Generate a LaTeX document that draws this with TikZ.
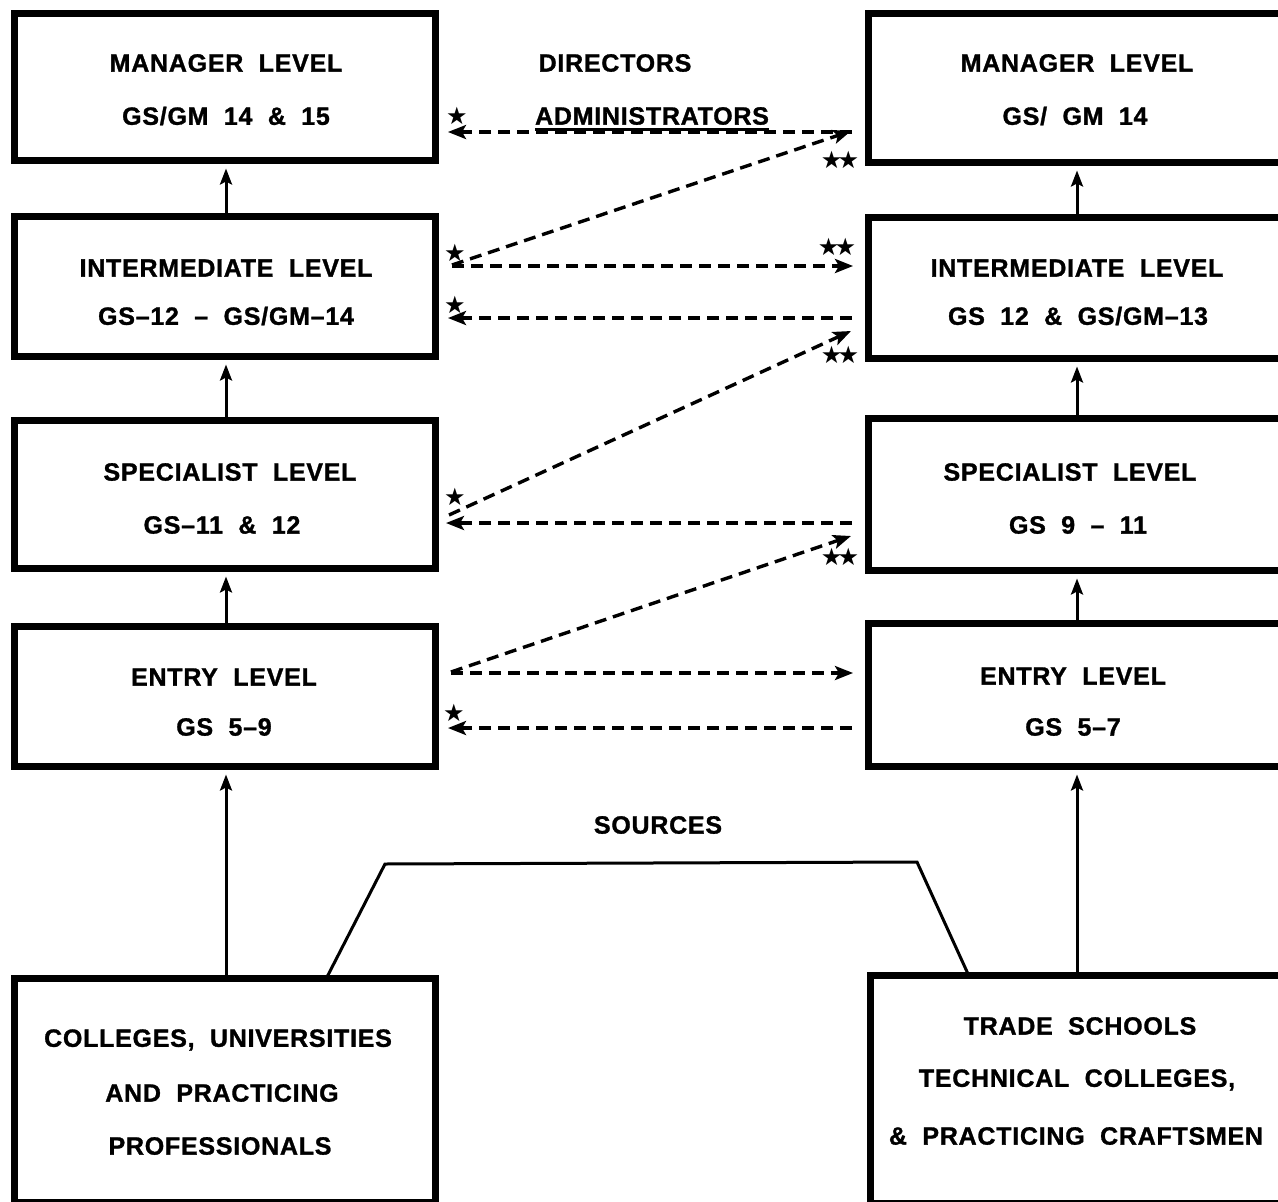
\documentclass[tikz,border=0pt]{standalone}
\usepackage{fontspec}
\setmainfont{Liberation Sans}
\newfontfamily\lblfont{Liberation Sans}[LetterSpace=3,WordSpace=2.0,BoldFeatures={FakeBold=1.2}]
\newfontfamily\starfont{DejaVu Sans}
\usetikzlibrary{arrows.meta,calc}
\begin{document}
\begin{tikzpicture}[x=1pt,y=-1pt,
  box/.style={draw,line width=7pt,inner sep=0pt,minimum width=421pt},
  rbox/.style={draw,line width=7pt,inner sep=0pt,minimum width=422pt},
  lbl/.style={inner sep=0pt,anchor=center,font=\lblfont\bfseries\fontsize{25}{25}\selectfont},
  uparrow/.style={line width=3pt,-{Stealth[length=16pt,width=12pt,inset=3pt]}},
  dasharrow/.style={line width=3.4pt,dash pattern=on 12pt off 7pt,-{Stealth[length=18pt,width=14pt,inset=4pt]}},
  star/.style={inner sep=0pt,font=\starfont\fontsize{24}{24}\selectfont},
  link/.style={line width=3pt,line join=miter}]
\useasboundingbox (0,0) rectangle (1278,1202);
\begin{scope}
\clip (0,0) rectangle (1278,1202);
% left column
\node[box,minimum height=147pt] (LM) at (224.5,86.5) {};
\node[box,minimum height=140pt] (LI) at (224.5,286) {};
\node[box,minimum height=148pt] (LS) at (224.5,494) {};
\node[box,minimum height=140pt] (LE) at (224.5,696) {};
\node[box,minimum height=224pt] (LB) at (224.5,1090) {};
% right column
\node[rbox,minimum height=149pt] (RM) at (1079,87.5) {};
\node[rbox,minimum height=141pt] (RI) at (1079,287.5) {};
\node[rbox,minimum height=152pt] (RS) at (1079,494) {};
\node[rbox,minimum height=143pt] (RE) at (1079,694.5) {};
\node[rbox,minimum height=228pt,minimum width=420pt] (RB) at (1080,1089) {};
\end{scope}
% texts left
\node[lbl] (lm1) at (226,63) {MANAGER LEVEL};
\node[lbl] (lm2) at (226,116) {GS/GM 14 \& 15};
\node[lbl] (li1) at (226,268) {INTERMEDIATE LEVEL};
\node[lbl] (li2) at (226,316) {GS–12 – GS/GM–14};
\node[lbl] (ls1) at (230,472) {SPECIALIST LEVEL};
\node[lbl] (ls2) at (222,525) {GS–11 \& 12};
\node[lbl] (le1) at (224,677) {ENTRY LEVEL};
\node[lbl] (le2) at (224,727) {GS 5–9};
\node[lbl] (lb1) at (218,1040) {COLLEGES, UNIVERSITIES};
\node[lbl] (lb2) at (222,1093) {AND PRACTICING};
\node[lbl] (lb3) at (220,1146) {PROFESSIONALS};
% texts right
\node[lbl] (rm1) at (1077,63) {MANAGER LEVEL};
\node[lbl] (rm2) at (1075,116) {GS/ GM 14};
\node[lbl] (ri1) at (1077,268) {INTERMEDIATE LEVEL};
\node[lbl] (ri2) at (1078,316) {GS 12 \& GS/GM–13};
\node[lbl] (rs1) at (1070,472) {SPECIALIST LEVEL};
\node[lbl] (rs2) at (1078,525) {GS 9 – 11};
\node[lbl] (re1) at (1073,676) {ENTRY LEVEL};
\node[lbl] (re2) at (1073,727) {GS 5–7};
\node[lbl] (rb1) at (1080,1026) {TRADE SCHOOLS};
\node[lbl] (rb2) at (1077,1080) {TECHNICAL COLLEGES,};
\node[lbl] (rb3) at (1076,1136) {\& PRACTICING CRAFTSMEN};
% middle texts
\node[lbl] (dir) at (615,63) {DIRECTORS};
\node[lbl] (adm) at (652,116) {ADMINISTRATORS};
\draw[line width=3pt] ([yshift=-4pt]adm.south west) -- ([yshift=-4pt]adm.south east);
\node[lbl] (src) at (658,825) {SOURCES};
% vertical arrows
\draw[uparrow] ($(LI.north)+(1.5,0)$) -- ($(LM.south)+(1.5,5)$);
\draw[uparrow] ($(LS.north)+(1.5,0)$) -- ($(LI.south)+(1.5,5)$);
\draw[uparrow] ($(LE.north)+(1.5,0)$) -- ($(LS.south)+(1.5,5)$);
\draw[uparrow] ($(LB.north)+(1.5,0)$) -- ($(LE.south)+(1.5,5)$);
\draw[uparrow] ($(RI.north)+(-2,0)$) -- ($(RM.south)+(-2,5)$);
\draw[uparrow] ($(RS.north)+(-2,0)$) -- ($(RI.south)+(-2,5)$);
\draw[uparrow] ($(RE.north)+(-2,0)$) -- ($(RS.south)+(-2,5)$);
\draw[uparrow] ($(RB.north)+(-3,0)$) -- ($(RE.south)+(-2,5)$);
% dashed connector end points
\coordinate (a1r) at (852,132); \coordinate (a1l) at (448,132);
\coordinate (a2l) at (452,265); \coordinate (a2r) at (851,131);
\coordinate (a3l) at (452,266); \coordinate (a3r) at (853,266);
\coordinate (a4r) at (852,318); \coordinate (a4l) at (448,318);
\coordinate (a5l) at (449,515); \coordinate (a5r) at (851,331);
\coordinate (a6r) at (852,523); \coordinate (a6l) at (446,523);
\coordinate (a7l) at (451,672); \coordinate (a7r) at (851,536);
\coordinate (a8l) at (451,673); \coordinate (a8r) at (853,673);
\coordinate (a9r) at (852,728); \coordinate (a9l) at (448,728);
\draw[dasharrow] (a1r) -- (a1l);
\draw[dasharrow] (a2l) -- (a2r);
\draw[dasharrow] (a3l) -- (a3r);
\draw[dasharrow] (a4r) -- (a4l);
\draw[dasharrow] (a5l) -- (a5r);
\draw[dasharrow] (a6r) -- (a6l);
\draw[dasharrow] (a7l) -- (a7r);
\draw[dasharrow] (a8l) -- (a8r);
\draw[dasharrow] (a9r) -- (a9l);
% stars
\node[star] (s1) at (457,116) {★};
\node[star] (s2) at (455,253) {★};
\node[star] (s3) at (455,305) {★};
\node[star] (s4) at (455,497) {★};
\node[star] (s5) at (454,713) {★};
\node[star] (d1) at (840,160) {★\kern-5pt★};
\node[star] (d2) at (837,247) {★\kern-5pt★};
\node[star] (d3) at (840,355) {★\kern-5pt★};
\node[star] (d4) at (840,557) {★\kern-5pt★};
% sources link
\coordinate (t2) at (385,864);
\coordinate (t3) at (917,862);
\draw[link] ($(LB.north west)+(316,3.5)$) -- (t2) -- (t3) -- ($(RB.north west)+(102,3.5)$);
\end{tikzpicture}
\end{document}
